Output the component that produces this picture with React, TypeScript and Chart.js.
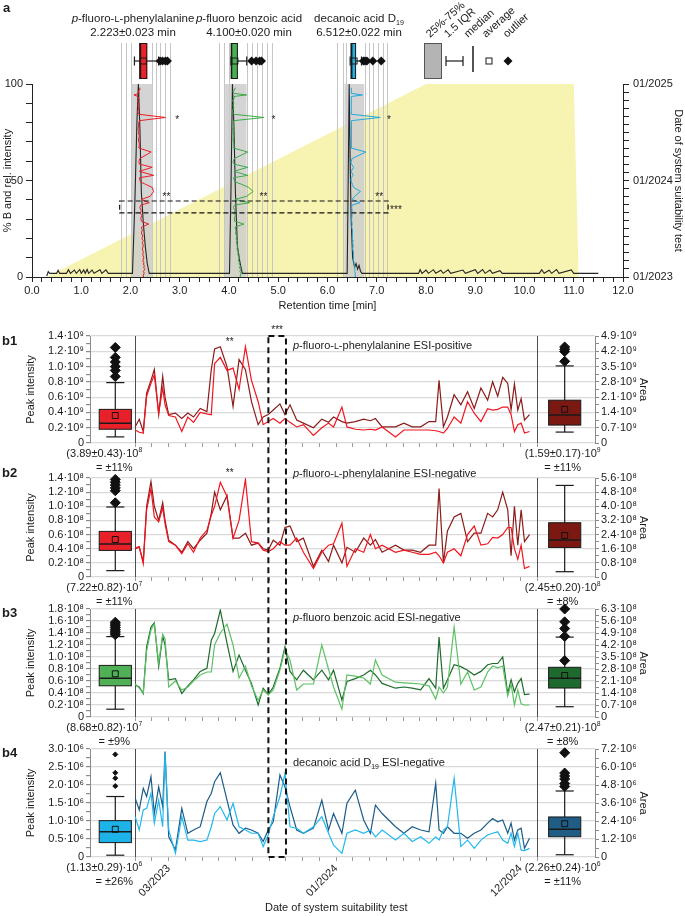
import React, { useEffect, useRef } from 'react';
import { Chart, registerables } from 'chart.js';

Chart.register(...registerables);

const FONT = '"Liberation Sans", Arial, Helvetica, sans-serif';
const INK = '#1b1b1b';
Chart.defaults.font.family = FONT;
Chart.defaults.font.size = 11;
Chart.defaults.color = INK;

const PAGE_W = 685;
const PAGE_H = 916;

// ---------------------------------------------------------------------------
// Shared: dates of the system suitability tests (months after 01/2023)
// ---------------------------------------------------------------------------
const testMonths = [
  0.0, 0.24, 0.48, 0.68, 0.94, 1.14, 1.4, 1.64, 1.78, 2.0,
  2.4, 2.78, 3.14, 3.48, 3.88, 4.28, 4.54, 4.74, 5.08, 5.48,
  5.84, 6.2, 6.58, 6.94, 7.34, 7.64, 7.94, 8.24, 8.64, 8.94,
  9.24, 9.64, 10.04, 10.64, 11.14, 11.54, 11.84, 12.34, 12.64, 13.14,
  13.64, 14.04, 14.34, 14.74, 15.54, 16.04, 16.54, 17.04, 17.54, 17.94,
  18.14, 18.4, 18.64, 19.04, 19.44, 19.84, 20.24, 20.64, 21.04, 21.34,
  21.64, 21.94, 22.24, 22.44, 22.64, 22.84, 23.04, 23.24, 23.54,
];

// ---------------------------------------------------------------------------
// Panel a: gradient, chromatogram and retention-time drift
// ---------------------------------------------------------------------------
const gradientTime = [0.3, 8.0, 11.0, 11.1];
const gradientPercentB = [0, 100, 100, 0];

const chromTime = [
  0.3, 0.33, 0.36, 0.5, 0.53, 0.56, 0.7, 0.74, 0.78, 0.86, 0.9, 0.97, 1.0, 1.05, 1.08, 1.12, 1.15, 1.22, 1.26, 1.38, 1.42, 1.5, 1.55,
  2.04, 2.09, 2.13, 2.16, 2.19, 2.22, 2.26, 2.3, 2.34, 2.38,
  4.01, 4.04, 4.07, 4.1, 4.13, 4.17, 4.22, 4.27,
  6.4, 6.42, 6.44, 6.46, 6.48, 6.51, 6.55, 6.58, 6.61, 6.64, 6.67, 6.7,
  7.85, 7.88, 7.92, 8.0, 8.05, 8.15, 8.2, 8.3, 8.35, 8.45, 8.5, 8.75, 8.8, 9.0, 9.05, 9.15, 9.2, 9.3, 9.35, 9.5, 9.55,
  10.3, 10.35, 10.4, 10.5, 10.55, 10.65, 10.7, 10.95, 11.0, 11.5,
];
const chromLevel = [
  0.5, 2.8, 1.9, 1.9, 3.5, 1.9, 1.9, 3.8, 1.9, 3.6, 1.9, 3.9, 1.9, 3.7, 1.9, 3.9, 1.9, 3.6, 1.9, 3.8, 1.9, 3.7, 1.9,
  1.9, 40, 80, 100, 78, 44, 28, 16, 7, 1.9,
  1.9, 45, 100, 78, 44, 16, 8, 1.9,
  1.9, 50, 100, 60, 30, 10, 5, 7, 4, 6, 3, 1.9,
  1.9, 3.8, 1.9, 3.6, 1.9, 3.8, 1.9, 3.5, 1.9, 3.7, 1.9, 3.6, 1.9, 3.8, 1.9, 3.9, 1.9, 3.6, 1.9, 3.3, 1.9,
  1.9, 3.8, 1.9, 3.5, 1.9, 3.9, 1.9, 3.7, 1.9, 1.9,
];

// integration windows and retention-time guides [min]
const windowStart = [2.02, 3.92, 6.34];
const windowEnd = [2.46, 4.36, 6.75];
const guideTimes = [
  1.8, 1.91, 2.02, 2.44, 2.51, 2.6, 2.7, 2.8,
  3.8, 3.9, 3.99, 4.36, 4.46, 4.56, 4.68, 4.77, 4.87,
  6.2, 6.31, 6.37, 6.76, 6.85, 6.93, 7.02, 7.12, 7.21,
];

// retention time of each standard per test [min]
const rtPhe = [
  2.27, 2.26, 2.28, 2.26, 2.29, 2.27, 2.28, 2.26, 2.27, 2.25,
  2.27, 2.25, 2.26, 2.24, 2.26, 2.24, 2.26, 2.23, 2.25, 2.22,
  2.24, 2.22, 2.37, 2.22, 2.21, 2.23, 2.2, 2.22, 2.19, 2.21,
  2.38, 2.22, 2.4, 2.47, 2.44, 2.3, 2.2, 2.18, 2.47, 2.18,
  2.44, 2.18, 2.17, 2.19, 2.42, 2.17, 2.18, 2.16, 2.18, 2.16,
  2.17, 2.15, 2.17, 2.16, 2.18, 2.71, 2.16, 2.15, 2.17, 2.15,
  2.17, 2.14, 2.17, 2.15, 2.07, 2.18, 2.16, 2.18, 2.19,
];
const rtBenzoic = [
  4.24, 4.23, 4.25, 4.22, 4.24, 4.21, 4.23, 4.2, 4.22, 4.19,
  4.21, 4.18, 4.19, 4.16, 4.18, 4.15, 4.17, 4.14, 4.16, 4.13,
  4.14, 4.12, 4.3, 4.12, 4.11, 4.13, 4.1, 4.12, 4.09, 4.11,
  4.42, 4.12, 4.36, 4.49, 4.4, 4.25, 4.12, 4.09, 4.38, 4.1,
  4.38, 4.1, 4.08, 4.11, 4.38, 4.09, 4.1, 4.08, 4.1, 4.08,
  4.09, 4.07, 4.1, 4.08, 4.1, 4.71, 4.09, 4.07, 4.1, 4.08,
  4.1, 4.07, 4.11, 4.09, 4.36, 4.1, 4.08, 4.11, 4.13,
];
const rtDecanoic = [
  6.57, 6.56, 6.57, 6.55, 6.56, 6.54, 6.55, 6.53, 6.54, 6.53,
  6.53, 6.52, 6.53, 6.51, 6.52, 6.51, 6.52, 6.5, 6.51, 6.5,
  6.51, 6.49, 6.5, 6.49, 6.49, 6.5, 6.49, 6.5, 6.49, 6.5,
  6.66, 6.5, 6.55, 6.67, 6.53, 6.5, 6.49, 6.48, 6.52, 6.48,
  6.53, 6.49, 6.48, 6.5, 6.78, 6.48, 6.49, 6.48, 6.49, 6.48,
  6.49, 6.48, 6.49, 6.48, 6.49, 7.07, 6.48, 6.48, 6.49, 6.48,
  6.49, 6.48, 6.48, 6.48, 6.71, 6.48, 6.48, 6.49, 6.48,
];

type Box = { lo: number; q1: number; median: number; q3: number; hi: number; mean: number; outliers: number[] };

// retention-time distributions [min]
const rtBoxPhe: Box = { lo: 2.08, q1: 2.18, median: 2.2, q3: 2.34, hi: 2.57, mean: 2.26, outliers: [2.6, 2.65, 2.71, 2.75] };
const rtBoxBenzoic: Box = { lo: 4.04, q1: 4.04, median: 4.05, q3: 4.18, hi: 4.36, mean: 4.12, outliers: [4.46, 4.55, 4.62, 4.66] };
const rtBoxDecanoic: Box = { lo: 6.46, q1: 6.47, median: 6.49, q3: 6.58, hi: 6.69, mean: 6.54, outliers: [6.73, 6.76, 6.8, 6.92, 7.09] };

type Part = [string, string?];

const compoundNames: Part[][] = [
  [['p', 'i'], ['-fluoro-'], ['L', 'sc'], ['-phenylalanine']],
  [['p', 'i'], ['-fluoro benzoic acid']],
  [['decanoic acid D'], ['19', 'sub']],
];
const compoundRtText = ['2.223±0.023 min', '4.100±0.020 min', '6.512±0.022 min'];

// marked anomalies in panel a (retention time [min], level [%])
const markTime = [2.95, 4.9, 7.25, 2.73, 4.7, 7.05, 7.39];
const markLevel = [81.2, 81.2, 81.2, 41.2, 41.2, 41.2, 34.6];
const markText = ['*', '*', '*', '**', '**', '**', '***'];

// flagged period in panel a
const flaggedRt = [1.78, 7.23];
const flaggedDateA = [7.97, 9.45];

const topDateTickMonths = [0, 12, 24];
const topDateTickText = ['01/2023', '01/2024', '01/2025'];

// ---------------------------------------------------------------------------
// Panels b1–b4: peak intensity (left) and area (right) per test
// ---------------------------------------------------------------------------
// p-fluoro-L-phenylalanine, ESI-positive (×10⁹)
const b1Intensity = [
  0.17, 0.14, 0.13, 0.61, 0.78, 0.89, 0.39, 0.72, 0.5, 0.36,
  0.34, 0.15, 0.34, 0.27, 0.4, 0.38, 0.37, 1.04, 1.12, 0.95,
  0.98, 0.7, 1.26, 0.82, 0.54, 0.24, 0.28, 0.32, 0.26, 0.32,
  0.27, 0.21, 0.24, 0.1, 0.2, 0.26, 0.21, 0.47, 0.21, 0.18,
  0.17, 0.18, 0.17, 0.21, 0.08, 0.17, 0.17, 0.17, 0.17, 0.16,
  0.15, 0.13, 0.19, 0.34, 0.26, 0.54, 0.39, 0.28, 0.45, 0.43,
  0.44, 0.47, 0.47, 0.37, 0.15, 0.24, 0.26, 0.13, 0.15,
];
const b1Area = [
  0.74, 1.09, 0.53, 2.28, 2.87, 3.36, 1.3, 3.05, 2.1, 1.3,
  1.37, 1.12, 1.37, 1.19, 1.58, 1.44, 3.36, 4.31, 4.41, 3.5,
  1.68, 3.82, 3.36, 1.89, 0.84, 1.19, 1.3, 1.51, 1.79, 1.3,
  1.75, 1.05, 0.91, 0.7, 1.09, 0.95, 1.19, 0.98, 0.91, 0.98,
  1.09, 1.02, 1.12, 0.74, 0.74, 0.91, 0.74, 0.74, 0.98, 0.98,
  2.87, 0.74, 1.19, 2.21, 1.75, 2.35, 1.58, 2.52, 1.96, 2.8,
  2.14, 3.01, 2.73, 1.51, 2.7, 1.51, 2.03, 1.05, 1.3,
];
const b1IntensityBox: Box = { lo: 0.08, q1: 0.18, median: 0.26, q3: 0.44, hi: 0.79, mean: 0.36, outliers: [0.87, 0.95, 1.0, 1.06, 1.12, 1.25] };
const b1AreaBox: Box = { lo: 0.5, q1: 0.82, median: 1.28, q3: 1.96, hi: 3.53, mean: 1.54, outliers: [3.74, 4.19, 4.29, 4.4] };

// p-fluoro-L-phenylalanine, ESI-negative (×10⁸)
const b2Intensity = [
  0.41, 0.43, 0.19, 0.95, 1.25, 0.85, 0.78, 0.98, 0.75, 0.5,
  0.45, 0.33, 0.47, 0.35, 0.55, 0.66, 0.87, 1.0, 1.34, 1.14,
  0.55, 0.8, 1.38, 0.5, 0.48, 0.38, 0.36, 0.4, 0.5, 0.45,
  0.45, 0.55, 0.35, 0.12, 0.35, 0.45, 0.47, 0.76, 0.15, 0.4,
  0.35, 0.6, 0.4, 0.45, 0.35, 0.38, 0.35, 0.32, 0.32, 0.35,
  0.3, 0.2, 0.35, 0.4, 0.3, 0.6, 0.72, 0.45, 0.47, 0.56,
  0.55, 0.6, 0.7, 0.7, 0.4, 0.25, 0.45, 0.12, 0.15,
];
const b2Area = [
  1.6, 1.68, 0.88, 4.0, 5.4, 4.0, 3.2, 4.2, 3.2, 2.08,
  1.8, 1.4, 2.0, 1.6, 2.08, 2.48, 3.6, 4.8, 3.8, 4.6,
  2.2, 2.2, 2.48, 1.8, 1.92, 1.6, 1.52, 2.08, 1.8, 2.8,
  2.88, 2.0, 2.2, 0.6, 1.52, 0.88, 1.8, 0.8, 1.68, 1.4,
  2.2, 1.8, 2.12, 1.4, 1.8, 1.52, 1.52, 1.4, 1.8, 1.8,
  5.0, 0.8, 2.6, 3.4, 3.6, 2.0, 2.48, 2.48, 3.6, 3.4,
  3.8, 4.8, 3.8, 1.2, 4.0, 1.8, 3.8, 2.0, 2.4,
];
const b2IntensityBox: Box = { lo: 0.09, q1: 0.376, median: 0.466, q3: 0.645, hi: 0.99, mean: 0.53, outliers: [1.05, 1.22, 1.26, 1.3, 1.34, 1.38] };
const b2AreaBox: Box = { lo: 0.3, q1: 1.67, median: 2.09, q3: 3.07, hi: 5.18, mean: 2.35, outliers: [] };

// p-fluoro benzoic acid, ESI-negative (×10⁸)
const b3Intensity = [
  0.55, 0.48, 0.4, 1.1, 1.45, 1.55, 0.9, 1.38, 1.3, 0.5,
  0.6, 0.45, 0.5, 0.6, 0.7, 0.75, 0.75, 1.2, 1.4, 1.55,
  1.2, 0.65, 0.85, 0.52, 0.28, 0.45, 0.37, 0.45, 0.78, 1.13,
  0.95, 0.45, 0.55, 0.55, 1.2, 0.8, 0.5, 0.13, 0.7, 0.68,
  0.65, 0.55, 0.95, 0.7, 0.58, 0.57, 0.56, 0.55, 0.52, 0.3,
  0.5, 0.4, 0.5, 1.5, 0.55, 0.75, 0.45, 0.5, 0.75, 0.85,
  0.82, 0.85, 0.35, 0.55, 0.2, 0.45, 0.22, 0.2, 0.2,
];
const b3Area = [
  1.86, 1.75, 1.37, 4.1, 5.25, 5.5, 2.94, 4.73, 4.2, 2.17,
  2.24, 1.37, 1.82, 2.17, 2.66, 2.84, 4.48, 4.87, 6.23, 4.31,
  2.66, 3.61, 2.73, 1.96, 0.7, 1.68, 1.3, 1.75, 2.84, 4.1,
  2.66, 2.17, 2.73, 2.17, 2.73, 2.17, 2.73, 0.98, 2.07, 2.24,
  2.45, 2.73, 2.45, 1.96, 1.68, 1.75, 1.68, 1.58, 2.24, 1.68,
  4.66, 1.68, 2.17, 3.05, 2.94, 2.73, 2.45, 2.66, 3.05, 3.12,
  3.12, 3.5, 1.37, 2.17, 1.47, 1.96, 2.24, 1.3, 1.33,
];
const b3IntensityBox: Box = { lo: 0.13, q1: 0.52, median: 0.645, q3: 0.86, hi: 1.34, mean: 0.72, outliers: [1.37, 1.4, 1.43, 1.46, 1.49, 1.52, 1.55, 1.58] };
const b3AreaBox: Box = { lo: 0.6, q1: 1.69, median: 2.26, q3: 2.9, hi: 4.66, mean: 2.42, outliers: [3.29, 4.7, 5.16, 5.55, 6.3] };

// decanoic acid D19, ESI-negative (×10⁶)
const b4Intensity = [
  1.12, 0.75, 1.31, 1.35, 1.77, 0.94, 1.58, 0.84, 2.88, 0.75,
  0.1, 1.12, 0.47, 0.47, 0.43, 0.47, 0.84, 1.21, 1.4, 1.03,
  1.49, 0.84, 0.75, 0.66, 0.66, 0.29, 0.61, 1.12, 1.68, 2.32,
  0.84, 0.8, 0.66, 0.84, 1.12, 0.66, 0.33, 0.1, 0.66, 0.75,
  0.66, 0.75, 0.56, 0.75, 0.47, 0.66, 0.43, 0.56, 0.38, 0.56,
  0.47, 0.75, 0.84, 2.19, 0.29, 0.47, 0.24, 0.47, 0.61, 0.66,
  0.7, 0.47, 0.38, 0.66, 0.29, 0.66, 0.19, 0.18, 0.24,
];
const b4Area = [
  3.91, 3.14, 4.58, 4.03, 5.35, 2.9, 4.68, 3.36, 7.03, 1.34,
  0.48, 3.24, 1.58, 1.8, 2.02, 3.7, 4.25, 5.02, 5.62, 3.79,
  2.14, 1.58, 1.92, 1.8, 1.58, 1.03, 1.8, 2.35, 5.47, 4.68,
  3.36, 1.8, 1.58, 1.92, 3.79, 1.8, 2.9, 1.58, 3.58, 4.46,
  2.47, 1.58, 3.46, 2.9, 2.02, 1.58, 2.02, 1.8, 1.68, 4.92,
  1.8, 1.58, 2.02, 1.58, 1.58, 1.25, 1.58, 1.8, 2.26, 2.57,
  2.35, 2.47, 1.58, 2.26, 1.13, 1.8, 1.92, 0.58, 1.25,
];
const b4IntensityBox: Box = { lo: 0.05, q1: 0.4, median: 0.7, q3: 1.01, hi: 1.68, mean: 0.77, outliers: [1.97, 2.19, 2.34, 2.85] };
const b4AreaBox: Box = { lo: 0.15, q1: 1.35, median: 1.85, q3: 2.67, hi: 4.4, mean: 2.22, outliers: [4.7, 4.9, 5.2, 5.4, 5.6, 6.95] };

const dateTickMonths = [2, 12, 23];
const dateTickText = ['03/2023', '01/2024', '12/2024'];

// flagged period in panels b (months after 01/2023)
const flaggedMonths = [7.95, 9.0];
const highMonth = 5.64; // '**' marker

// x-positions (months) used by the time axis of panels b
const X_MIN = -2.7;
const X_MAX = 27.45;
const SERIES_START = 0;
const SERIES_END = 24;
const LEFT_BOX_X = -1.19;
const RIGHT_BOX_X = 25.64;
const BOX_HALF = 0.96;
const CAP_HALF = 0.54;
const TITLE_MONTH = 9.42;

// ---------------------------------------------------------------------------
// helpers
// ---------------------------------------------------------------------------
function drawRich(ctx: CanvasRenderingContext2D, parts: Part[], x: number, y: number, size: number, align: 'left' | 'center' | 'right' = 'left') {
  const spec = (st?: string) => {
    if (st === 'i') return { font: `italic ${size}px ${FONT}`, dy: 0 };
    if (st === 'sc') return { font: `${size * 0.8}px ${FONT}`, dy: 0 };
    if (st === 'sub') return { font: `${size * 0.62}px ${FONT}`, dy: size * 0.24 };
    if (st === 'sup') return { font: `${size * 0.62}px ${FONT}`, dy: -size * 0.42 };
    if (st === 'b') return { font: `bold ${size}px ${FONT}`, dy: 0 };
    return { font: `${size}px ${FONT}`, dy: 0 };
  };
  const specs = parts.map((p) => spec(p[1]));
  let total = 0;
  const widths = parts.map((p, i) => {
    ctx.font = specs[i].font;
    const w = ctx.measureText(p[0]).width;
    total += w;
    return w;
  });
  let cx = align === 'left' ? x : align === 'center' ? x - total / 2 : x - total;
  const base = y + size * 0.36;
  ctx.textAlign = 'left';
  ctx.textBaseline = 'alphabetic';
  ctx.fillStyle = INK;
  parts.forEach((p, i) => {
    ctx.font = specs[i].font;
    ctx.fillText(p[0], cx, base + specs[i].dy);
    cx += widths[i];
  });
}

function stepTicks(max: number, step: number) {
  const n = Math.round(max / step);
  return Array.from({ length: n + 1 }, (_, i) => ({ value: +(i * step).toFixed(6) }));
}
const isMultiple = (v: number, step: number) => Math.abs(v / step - Math.round(v / step)) < 1e-6;

function line(ctx: CanvasRenderingContext2D, x0: number, y0: number, x1: number, y1: number) {
  ctx.beginPath();
  ctx.moveTo(x0, y0);
  ctx.lineTo(x1, y1);
  ctx.stroke();
}

function diamond(ctx: CanvasRenderingContext2D, x: number, y: number, r: number) {
  ctx.beginPath();
  ctx.moveTo(x, y - r);
  ctx.lineTo(x + r, y);
  ctx.lineTo(x, y + r);
  ctx.lineTo(x - r, y);
  ctx.closePath();
  ctx.fill();
}

// horizontal box plot in the strip above panel a
function drawHBox(ctx: CanvasRenderingContext2D, xs: any, s: Box, yTop: number, yBot: number, color: string) {
  const ym = (yTop + yBot) / 2;
  const X = (v: number) => xs.getPixelForValue(v);
  ctx.strokeStyle = '#1a1a1a';
  ctx.lineWidth = 1.2;
  line(ctx, X(s.lo), ym, X(s.hi), ym);
  line(ctx, X(s.lo), ym - 4.5, X(s.lo), ym + 4.5);
  line(ctx, X(s.hi), ym - 4.5, X(s.hi), ym + 4.5);
  ctx.fillStyle = color;
  ctx.fillRect(X(s.q1), yTop, X(s.q3) - X(s.q1), yBot - yTop);
  ctx.lineWidth = 1;
  ctx.strokeRect(X(s.q1) + 0.5, yTop + 0.5, X(s.q3) - X(s.q1) - 1, yBot - yTop - 1);
  ctx.lineWidth = 1.6;
  line(ctx, X(s.median), yTop, X(s.median), yBot);
  ctx.lineWidth = 1;
  ctx.strokeRect(X(s.mean) - 3, ym - 3, 6, 6);
  ctx.fillStyle = '#111';
  s.outliers.forEach((o) => diamond(ctx, X(o), ym, 4.5));
}

// vertical box (mean and outliers are scatter datasets)
function drawVBox(ctx: CanvasRenderingContext2D, xs: any, ys: any, xc: number, s: Box, color: string) {
  const cx = xs.getPixelForValue(xc);
  const hw = xs.getPixelForValue(xc + BOX_HALF) - cx;
  const cap = xs.getPixelForValue(xc + CAP_HALF) - cx;
  const Y = (v: number) => ys.getPixelForValue(v);
  ctx.strokeStyle = '#1a1a1a';
  ctx.lineWidth = 1.2;
  line(ctx, cx, Y(s.lo), cx, Y(s.q1));
  line(ctx, cx, Y(s.q3), cx, Y(s.hi));
  line(ctx, cx - cap, Y(s.lo), cx + cap, Y(s.lo));
  line(ctx, cx - cap, Y(s.hi), cx + cap, Y(s.hi));
  ctx.fillStyle = color;
  ctx.fillRect(cx - hw, Y(s.q3), 2 * hw, Y(s.q1) - Y(s.q3));
  ctx.lineWidth = 1;
  ctx.strokeRect(cx - hw, Y(s.q3), 2 * hw, Y(s.q1) - Y(s.q3));
  ctx.lineWidth = 1.5;
  line(ctx, cx - hw, Y(s.median), cx + hw, Y(s.median));
}

// ---------------------------------------------------------------------------
// Panel a chart
// ---------------------------------------------------------------------------
const STRIP_TOP = 43;
const STRIP_BOTTOM = 79;
const compoundLabelX = [133, 249, 359];
const traceColors = ['#ed1c24', '#3aaa46', '#22a9de'];
const boxColors = ['#e8232a', '#4aae52', '#27aee0'];

const panelAPlugin = {
  id: 'panelA',
  afterDatasetDraw(chart: any, args: any) {
    const ds = chart.data.datasets[args.index];
    if (!ds.isGradient) return;
    const { ctx, chartArea } = chart;
    const xs = chart.scales.x;
    ctx.save();
    ctx.strokeStyle = '#c6c6c6';
    ctx.lineWidth = 1;
    guideTimes.forEach((t) => {
      const px = Math.round(xs.getPixelForValue(t)) + 0.5;
      line(ctx, px, STRIP_TOP, px, chartArea.bottom);
    });
    ctx.restore();
  },
  afterDatasetsDraw(chart: any) {
    const { ctx } = chart;
    const xs = chart.scales.x;
    const yB = chart.scales.yB;
    const yD = chart.scales.yDate;
    ctx.save();

    // retention-time box plots
    [rtBoxPhe, rtBoxBenzoic, rtBoxDecanoic].forEach((b, i) => drawHBox(ctx, xs, b, STRIP_TOP, STRIP_BOTTOM, boxColors[i]));

    // box-plot key
    const ym = (STRIP_TOP + STRIP_BOTTOM) / 2;
    ctx.fillStyle = '#b4b4b4';
    ctx.fillRect(424, STRIP_TOP, 18, STRIP_BOTTOM - STRIP_TOP);
    ctx.strokeStyle = '#555';
    ctx.lineWidth = 1;
    ctx.strokeRect(424.5, STRIP_TOP + 0.5, 17, STRIP_BOTTOM - STRIP_TOP - 1);
    ctx.strokeStyle = '#1a1a1a';
    ctx.lineWidth = 1.2;
    line(ctx, 446, ym, 463, ym);
    line(ctx, 446, ym - 5, 446, ym + 5);
    line(ctx, 463, ym - 5, 463, ym + 5);
    ctx.lineWidth = 1.5;
    line(ctx, 473, 46, 473, 72);
    ctx.lineWidth = 1;
    ctx.strokeRect(486, ym - 3, 6, 6);
    ctx.fillStyle = '#111';
    diamond(ctx, 508, ym, 4.5);
    const keyText = ['25%-75%', '1.5 IQR', 'median', 'average', 'outlier'];
    const keyX = [430, 448, 468, 486, 507];
    ctx.font = `11px ${FONT}`;
    ctx.fillStyle = INK;
    ctx.textAlign = 'left';
    ctx.textBaseline = 'alphabetic';
    keyText.forEach((t, i) => {
      ctx.save();
      ctx.translate(keyX[i], 38);
      ctx.rotate((-42 * Math.PI) / 180);
      ctx.fillText(t, 0, 0);
      ctx.restore();
    });

    // compound labels
    compoundNames.forEach((parts, i) => {
      drawRich(ctx, parts, compoundLabelX[i], 18, 11.5, 'center');
      drawRich(ctx, [[compoundRtText[i]]], compoundLabelX[i], 32, 11.5, 'center');
    });
    drawRich(ctx, [['a', 'b']], 3, 7, 13, 'left');

    // anomaly markers
    ctx.font = `10px ${FONT}`;
    ctx.fillStyle = INK;
    ctx.textAlign = 'center';
    ctx.textBaseline = 'middle';
    markText.forEach((t, i) => ctx.fillText(t, xs.getPixelForValue(markTime[i]), yB.getPixelForValue(markLevel[i])));

    // flagged period
    ctx.setLineDash([5, 3]);
    ctx.strokeStyle = '#111';
    ctx.lineWidth = 1.2;
    const x0 = xs.getPixelForValue(flaggedRt[0]);
    const x1 = xs.getPixelForValue(flaggedRt[1]);
    const y0 = yD.getPixelForValue(flaggedDateA[1]);
    const y1 = yD.getPixelForValue(flaggedDateA[0]);
    ctx.strokeRect(x0, y0, x1 - x0, y1 - y0);
    ctx.setLineDash([]);
    ctx.restore();
  },
};

function buildRetentionChart(canvas: HTMLCanvasElement) {
  const traces = [rtPhe, rtBenzoic, rtDecanoic];
  const datasets: any[] = [
    {
      label: 'gradient',
      isGradient: true,
      data: gradientTime.map((x, i) => ({ x, y: gradientPercentB[i] })),
      yAxisID: 'yB',
      borderWidth: 0,
      borderColor: 'rgba(0,0,0,0)',
      backgroundColor: '#f7f3b0',
      fill: 'origin',
      pointRadius: 0,
      order: 10,
    },
    ...windowStart.map((a, i) => ({
      label: 'window',
      data: [{ x: a, y: 100 }, { x: windowEnd[i], y: 100 }],
      yAxisID: 'yB',
      borderWidth: 0,
      borderColor: 'rgba(0,0,0,0)',
      backgroundColor: 'rgba(204,204,204,0.85)',
      fill: 'origin',
      pointRadius: 0,
      order: 9,
    })),
    {
      label: 'chromatogram',
      data: chromTime.map((x, i) => ({ x, y: chromLevel[i] })),
      yAxisID: 'yB',
      borderColor: '#262626',
      borderWidth: 1.1,
      pointRadius: 0,
      fill: false,
      order: 5,
    },
    ...traces.map((rt, k) => ({
      label: 'rt' + k,
      data: testMonths.map((m, i) => ({ x: rt[i], y: m })),
      yAxisID: 'yDate',
      borderColor: traceColors[k],
      borderWidth: 1,
      pointRadius: 0,
      fill: false,
      order: 1 + k,
    })),
  ];

  return new Chart(canvas, {
    type: 'line',
    data: { datasets },
    options: {
      responsive: false,
      animation: false,
      devicePixelRatio: 1,
      events: [],
      layout: { padding: { left: 0, right: 0, top: 84, bottom: PAGE_H - 277 - 38 } },
      plugins: { legend: { display: false }, tooltip: { enabled: false }, title: { display: false } },
      scales: {
        x: {
          type: 'linear',
          position: 'bottom',
          min: 0,
          max: 12,
          afterBuildTicks: (s: any) => { s.ticks = stepTicks(12, 0.2); },
          ticks: { autoSkip: false, maxRotation: 0, minRotation: 0, padding: 2, callback: (v: any) => (isMultiple(v, 1) ? Number(v).toFixed(1) : '') },
          grid: { drawOnChartArea: false, tickLength: 5, color: '#222' },
          border: { color: '#222' },
          title: { display: true, text: 'Retention time [min]', padding: { top: 0, bottom: 2 }, font: { size: 11 } },
          afterFit: (s: any) => { s.height = 38; },
        },
        yB: {
          type: 'linear',
          position: 'left',
          min: 0,
          max: 100,
          afterBuildTicks: (s: any) => { s.ticks = stepTicks(100, 10); },
          ticks: { autoSkip: false, padding: 3, callback: (v: any) => (isMultiple(v, 50) ? String(v) : '') },
          grid: { drawOnChartArea: false, tickLength: 6, color: '#222' },
          border: { color: '#222' },
          title: { display: true, text: '% B and rel. intensity', padding: { top: 1, bottom: 0 }, font: { size: 11 } },
          afterFit: (s: any) => { s.width = 32; },
        },
        yDate: {
          type: 'linear',
          position: 'right',
          min: 0,
          max: 24,
          afterBuildTicks: (s: any) => { s.ticks = stepTicks(24, 1); },
          ticks: {
            autoSkip: false,
            padding: 4,
            callback: (v: any) => {
              const k = topDateTickMonths.indexOf(Math.round(v));
              return k >= 0 && isMultiple(v, 1) ? topDateTickText[k] : '';
            },
          },
          grid: { drawOnChartArea: false, tickLength: 6, color: '#222' },
          border: { color: '#222' },
          title: { display: true, text: 'Date of system suitability test', padding: { top: 0, bottom: 0 }, font: { size: 11 } },
          afterFit: (s: any) => { s.width = 62; },
        },
      },
    } as any,
    plugins: [panelAPlugin as any],
  });
}

// ---------------------------------------------------------------------------
// Panels b
// ---------------------------------------------------------------------------
type PanelDef = {
  tag: string; top: number; bottom: number; tagY: number; titleY: number; title: Part[];
  leftMax: number; leftMajor: number; leftExp: string; rightMax: number; rightMajor: number; rightExp: string;
  intensity: number[]; area: number[];
  lightLine: string; darkLine: string; lightFill: string; darkFill: string;
  intensityBox: Box; areaBox: Box; leftR: number; rightR: number;
  intensityStats: Part[]; intensityRsd: string; areaStats: Part[]; areaRsd: string;
  starY?: number; dateLabels: boolean;
};

const panels: PanelDef[] = [
  {
    tag: 'b1', top: 336, bottom: 443, tagY: 340, titleY: 345,
    title: [['p', 'i'], ['-fluoro-'], ['L', 'sc'], ['-phenylalanine ESI-positive']],
    leftMax: 1.4, leftMajor: 0.2, leftExp: '⁹', rightMax: 4.9, rightMajor: 0.7, rightExp: '⁹',
    intensity: b1Intensity, area: b1Area,
    lightLine: '#f2151f', darkLine: '#8a1c1a', lightFill: '#e8202a', darkFill: '#7b1812',
    intensityBox: b1IntensityBox, areaBox: b1AreaBox, leftR: 5, rightR: 5,
    intensityStats: [['(3.89±0.43)·10'], ['8', 'sup']], intensityRsd: '= ±11%',
    areaStats: [['(1.59±0.17)·10'], ['9', 'sup']], areaRsd: '= ±11%',
    starY: 342, dateLabels: false,
  },
  {
    tag: 'b2', top: 478, bottom: 577, tagY: 472, titleY: 473,
    title: [['p', 'i'], ['-fluoro-'], ['L', 'sc'], ['-phenylalanine ESI-negative']],
    leftMax: 1.4, leftMajor: 0.2, leftExp: '⁸', rightMax: 5.6, rightMajor: 0.8, rightExp: '⁸',
    intensity: b2Intensity, area: b2Area,
    lightLine: '#f2151f', darkLine: '#8a1c1a', lightFill: '#e8202a', darkFill: '#7b1812',
    intensityBox: b2IntensityBox, areaBox: b2AreaBox, leftR: 5, rightR: 5,
    intensityStats: [['(7.22±0.82)·10'], ['7', 'sup']], intensityRsd: '= ±11%',
    areaStats: [['(2.45±0.20)·10'], ['8', 'sup']], areaRsd: '= ±8%',
    starY: 473, dateLabels: false,
  },
  {
    tag: 'b3', top: 609, bottom: 717, tagY: 612, titleY: 617,
    title: [['p', 'i'], ['-fluoro benzoic acid ESI-negative']],
    leftMax: 1.8, leftMajor: 0.2, leftExp: '⁸', rightMax: 6.3, rightMajor: 0.7, rightExp: '⁸',
    intensity: b3Intensity, area: b3Area,
    lightLine: '#5cc264', darkLine: '#1f6b2d', lightFill: '#4fb056', darkFill: '#1e6a2e',
    intensityBox: b3IntensityBox, areaBox: b3AreaBox, leftR: 5, rightR: 5,
    intensityStats: [['(8.68±0.82)·10'], ['7', 'sup']], intensityRsd: '= ±9%',
    areaStats: [['(2.47±0.21)·10'], ['8', 'sup']], areaRsd: '= ±8%',
    dateLabels: false,
  },
  {
    tag: 'b4', top: 749, bottom: 857, tagY: 752, titleY: 762,
    title: [['decanoic acid D'], ['19', 'sub'], [' ESI-negative']],
    leftMax: 3.0, leftMajor: 0.5, leftExp: '⁶', rightMax: 7.2, rightMajor: 1.2, rightExp: '⁶',
    intensity: b4Intensity, area: b4Area,
    lightLine: '#22b8ee', darkLine: '#1c5c87', lightFill: '#1db2e8', darkFill: '#1f5d85',
    intensityBox: b4IntensityBox, areaBox: b4AreaBox, leftR: 2.5, rightR: 5,
    intensityStats: [['(1.13±0.29)·10'], ['6', 'sup']], intensityRsd: '= ±26%',
    areaStats: [['(2.26±0.24)·10'], ['6', 'sup']], areaRsd: '= ±11%',
    dateLabels: true,
  },
];

const X_AXIS_H = 48;
const sci = (v: number, exp: string) => (Math.abs(v) < 1e-9 ? '0' : `${v.toFixed(1)}·10${exp}`);

function panelPlugin(p: PanelDef, index: number) {
  const last = index === panels.length - 1;
  return {
    id: 'panelB' + index,
    beforeDatasetsDraw(chart: any) {
      const { ctx, chartArea: ca, scales } = chart;
      const xs = scales.x;
      ctx.save();
      ctx.strokeStyle = '#4d4d4d';
      ctx.lineWidth = 1;
      [SERIES_START, SERIES_END].forEach((m) => {
        const px = Math.round(xs.getPixelForValue(m)) + 0.5;
        line(ctx, px, ca.top, px, ca.bottom);
      });
      drawVBox(ctx, xs, scales.yL, LEFT_BOX_X, p.intensityBox, p.lightFill);
      drawVBox(ctx, xs, scales.yR, RIGHT_BOX_X, p.areaBox, p.darkFill);
      ctx.restore();
    },
    afterDatasetsDraw(chart: any) {
      const { ctx, chartArea: ca, scales } = chart;
      const xs = scales.x;
      ctx.save();
      drawRich(ctx, [[p.tag, 'b']], 2, p.tagY, 13, 'left');
      drawRich(ctx, p.title, xs.getPixelForValue(TITLE_MONTH), p.titleY, 11, 'left');

      const cl = xs.getPixelForValue(LEFT_BOX_X);
      const cr = xs.getPixelForValue(RIGHT_BOX_X);
      drawRich(ctx, p.intensityStats, cl - 11, ca.bottom + 10, 11, 'center');
      drawRich(ctx, [[p.intensityRsd]], cl - 1, ca.bottom + 24, 11, 'center');
      drawRich(ctx, p.areaStats, cr - 2, ca.bottom + 10, 11, 'center');
      drawRich(ctx, [[p.areaRsd]], cr - 2, ca.bottom + 24, 11, 'center');

      ctx.font = `10px ${FONT}`;
      ctx.fillStyle = INK;
      ctx.textAlign = 'center';
      ctx.textBaseline = 'middle';
      if (p.starY !== undefined) ctx.fillText('**', xs.getPixelForValue(highMonth), p.starY);
      if (index === 0) {
        ctx.fillText('***', xs.getPixelForValue((flaggedMonths[0] + flaggedMonths[1]) / 2), ca.top - 6);
      }
      if (last) {
        // flagged period across all four panels
        const x0 = xs.getPixelForValue(flaggedMonths[0]);
        const x1 = xs.getPixelForValue(flaggedMonths[1]);
        ctx.setLineDash([6, 4]);
        ctx.strokeStyle = '#111';
        ctx.lineWidth = 2;
        ctx.strokeRect(x0, panels[0].top, x1 - x0, p.bottom - panels[0].top);
        ctx.setLineDash([]);
        ctx.font = `11px ${FONT}`;
        ctx.fillStyle = INK;
        ctx.textAlign = 'center';
        ctx.textBaseline = 'middle';
        const mid = (xs.getPixelForValue(SERIES_START) + xs.getPixelForValue(SERIES_END)) / 2;
        ctx.fillText('Date of system suitability test', mid, 908);
      }
      ctx.restore();
    },
  };
}

function buildPanelChart(canvas: HTMLCanvasElement, p: PanelDef, index: number) {
  const datasets: any[] = [
    {
      type: 'scatter', label: 'intensity outliers',
      data: p.intensityBox.outliers.map((y) => ({ x: LEFT_BOX_X, y })),
      yAxisID: 'yL', pointStyle: 'rectRot', pointRadius: p.leftR, backgroundColor: '#111', borderColor: '#111', borderWidth: 1, clip: false, order: 0,
    },
    {
      type: 'scatter', label: 'intensity mean',
      data: [{ x: LEFT_BOX_X, y: p.intensityBox.mean }],
      yAxisID: 'yL', pointStyle: 'rect', pointRadius: 4.2, backgroundColor: 'rgba(0,0,0,0)', borderColor: '#111', borderWidth: 1, clip: false, order: 0,
    },
    {
      type: 'scatter', label: 'area outliers',
      data: p.areaBox.outliers.map((y) => ({ x: RIGHT_BOX_X, y })),
      yAxisID: 'yR', pointStyle: 'rectRot', pointRadius: p.rightR, backgroundColor: '#111', borderColor: '#111', borderWidth: 1, clip: false, order: 0,
    },
    {
      type: 'scatter', label: 'area mean',
      data: [{ x: RIGHT_BOX_X, y: p.areaBox.mean }],
      yAxisID: 'yR', pointStyle: 'rect', pointRadius: 4.2, backgroundColor: 'rgba(0,0,0,0)', borderColor: '#111', borderWidth: 1, clip: false, order: 0,
    },
    {
      type: 'line', label: 'area',
      data: testMonths.map((m, i) => ({ x: m, y: p.area[i] })),
      yAxisID: 'yR', borderColor: p.darkLine, borderWidth: 1.2, pointRadius: 0, fill: false, order: 2,
    },
    {
      type: 'line', label: 'intensity',
      data: testMonths.map((m, i) => ({ x: m, y: p.intensity[i] })),
      yAxisID: 'yL', borderColor: p.lightLine, borderWidth: 1.2, pointRadius: 0, fill: false, order: 1,
    },
  ];

  return new Chart(canvas, {
    type: 'line',
    data: { datasets },
    options: {
      responsive: false,
      animation: false,
      devicePixelRatio: 1,
      events: [],
      layout: { padding: { left: 20, right: 32, top: p.top, bottom: PAGE_H - p.bottom - X_AXIS_H } },
      plugins: { legend: { display: false }, tooltip: { enabled: false }, title: { display: false } },
      scales: {
        x: {
          type: 'linear',
          position: 'bottom',
          min: X_MIN,
          max: X_MAX,
          afterBuildTicks: (s: any) => {
            s.ticks = Array.from({ length: SERIES_END - SERIES_START + 1 }, (_, i) => ({ value: SERIES_START + i }));
          },
          ticks: {
            autoSkip: false,
            minRotation: p.dateLabels ? 45 : 0,
            maxRotation: p.dateLabels ? 45 : 0,
            padding: 1,
            callback: (v: any) => {
              if (!p.dateLabels) return '';
              const k = dateTickMonths.indexOf(Math.round(v));
              return k >= 0 ? dateTickText[k] : '';
            },
          },
          grid: { drawOnChartArea: false, tickLength: 4, color: '#9a9a9a' },
          border: { display: false },
          afterFit: (s: any) => { s.height = X_AXIS_H; },
        },
        yL: {
          type: 'linear',
          position: 'left',
          min: 0,
          max: p.leftMax,
          afterBuildTicks: (s: any) => { s.ticks = stepTicks(p.leftMax, p.leftMajor / 2); },
          ticks: { autoSkip: false, padding: 2, callback: (v: any) => (isMultiple(v, p.leftMajor) ? sci(v, p.leftExp) : '') },
          grid: {
            color: (c: any) => (c.tick && isMultiple(c.tick.value, p.leftMajor) ? '#dadada' : 'rgba(0,0,0,0)'),
            lineWidth: 1.2,
            tickColor: '#8a8a8a',
            tickLength: 4,
          },
          border: { color: '#8a8a8a' },
          title: { display: true, text: 'Peak intensity', padding: { top: 4.4, bottom: 0 }, font: { size: 11 } },
          afterFit: (s: any) => { s.width = 70; },
        },
        yR: {
          type: 'linear',
          position: 'right',
          min: 0,
          max: p.rightMax,
          afterBuildTicks: (s: any) => { s.ticks = stepTicks(p.rightMax, p.rightMajor / 2); },
          ticks: { autoSkip: false, padding: 2, callback: (v: any) => (isMultiple(v, p.rightMajor) ? sci(v, p.rightExp) : '') },
          grid: { drawOnChartArea: false, tickColor: '#8a8a8a', tickLength: 4, color: '#8a8a8a' },
          border: { color: '#8a8a8a' },
          title: { display: true, text: 'Area', padding: { top: 3.4, bottom: 0 }, font: { size: 11 } },
          afterFit: (s: any) => { s.width = 58; },
        },
      },
    } as any,
    plugins: [panelPlugin(p, index) as any],
  });
}

const builders: ((c: HTMLCanvasElement) => Chart)[] = [
  buildRetentionChart,
  ...panels.map((p, i) => (c: HTMLCanvasElement) => buildPanelChart(c, p, i)),
];

function ChartLayer({ make }: { make: (c: HTMLCanvasElement) => Chart }) {
  const ref = useRef<HTMLCanvasElement | null>(null);
  useEffect(() => {
    const chart = make(ref.current as HTMLCanvasElement);
    return () => chart.destroy();
  }, [make]);
  return <canvas ref={ref} width={PAGE_W} height={PAGE_H} style={{ position: 'absolute', left: 0, top: 0 }} />;
}

export default function App() {
  return (
    <div style={{ position: 'fixed', left: 0, top: 0, width: PAGE_W, height: PAGE_H, background: '#fff', overflow: 'hidden' }}>
      {builders.map((b, i) => (
        <ChartLayer key={i} make={b} />
      ))}
    </div>
  );
}
